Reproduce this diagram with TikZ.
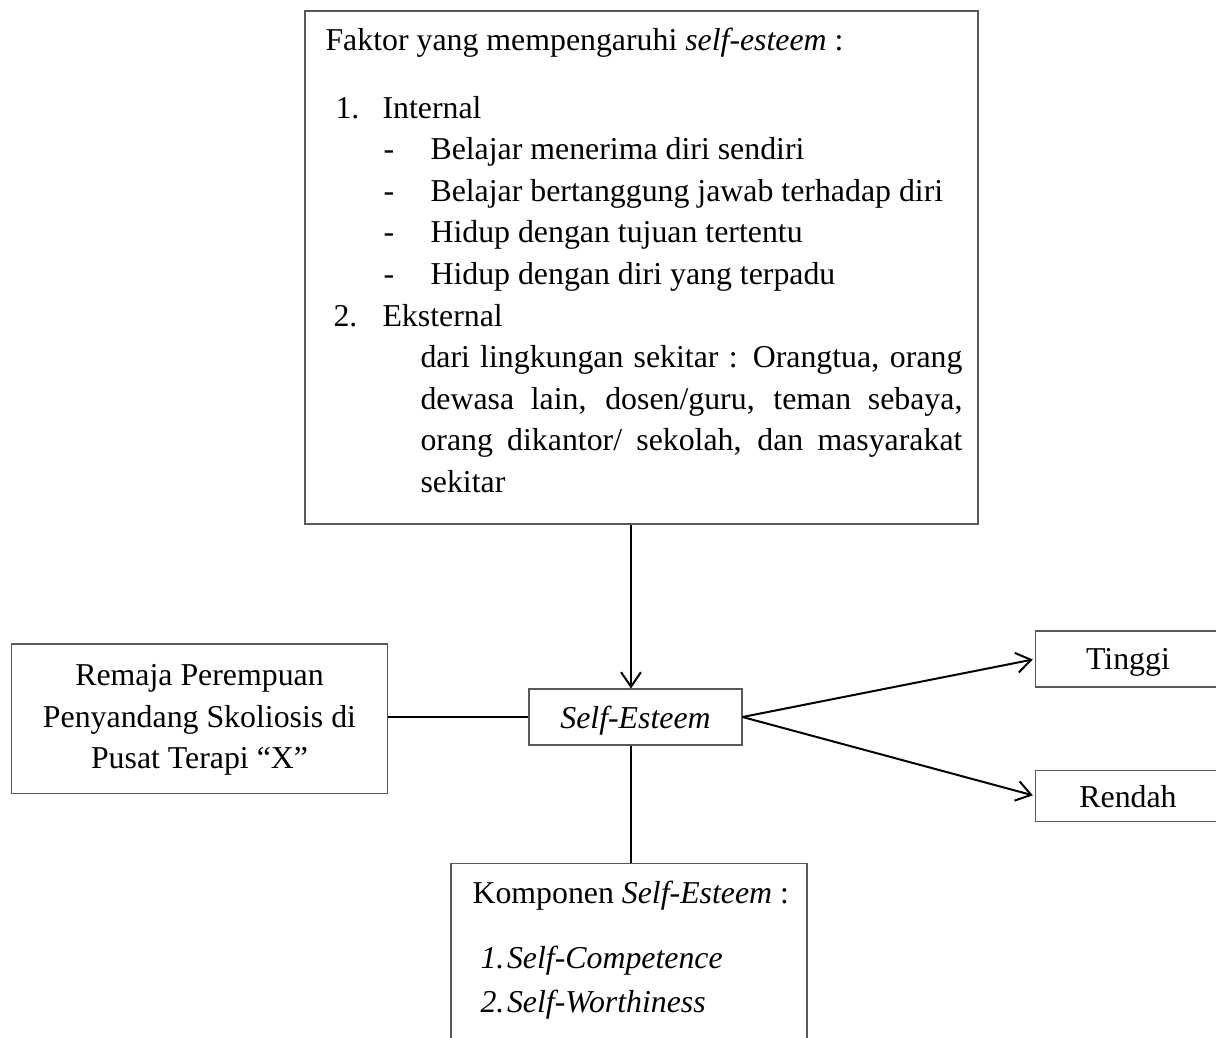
\documentclass[tikz,border=0pt]{standalone}
\usepackage{fontspec}
\setmainfont{Liberation Serif}
\usepackage{tikz}
\usetikzlibrary{arrows.meta,positioning}

\begin{document}
\begin{tikzpicture}[
    x=0.377pt, y=-0.377pt,
    every node/.style={font=\fontsize{12pt}{12.6pt}\selectfont},
    box/.style={rectangle, draw=black!65, line width=0.4pt, inner sep=0pt, text depth=0pt, align=center},
    txt/.style={anchor=base west, inner sep=0pt},
    link/.style={line width=0.75pt},
    arrow/.style={-{Straight Barb[length=5.5pt, width=7.5pt, line width=0.75pt]}, line width=0.75pt}
]
    \useasboundingbox (0,0) rectangle (1216,1037);
    \clip (0,0) rectangle (1216,1037);

    % boxes
    \node[box, minimum width=253.7pt, minimum height=193.4pt] (faktor) at (641.5,267.5) {};
    \node[box, minimum width=142.1pt, minimum height=56.2pt] (remaja) at (199.5,718.5) {};
    \node[align=center, inner sep=0pt, font=\fontsize{12pt}{15.6pt}\selectfont] (remajateks) at (199.5,720)
        {Remaja Perempuan\\Penyandang Skoliosis di\\Pusat Terapi ``X''};
    \node[box, minimum width=80.3pt, minimum height=21.1pt] (self) at (635.5,717) {\textit{Self-Esteem}};
    \node[box, minimum width=69.4pt, minimum height=21.1pt] (tinggi) at (1128,659) {Tinggi};
    \node[box, minimum width=69.4pt, minimum height=18.9pt] (rendah) at (1128,796) {Rendah};
    \node[box, minimum width=134.2pt, minimum height=68.6pt] (komponen) at (629,954) {};
    \coordinate (axis) at (631,717);

    % faktor text
    \node[txt] (judul) at (325,50) {Faktor yang mempengaruhi \textit{self-esteem} :};
    \node[txt] (no1) at (335,118) {1.};
    \node[txt] (internal) at (382,118) {Internal};
    \node[txt] (dash1) at (383,159.6) {-};
    \node[txt] (item1) at (430,159.6) {Belajar menerima diri sendiri};
    \node[txt] (dash2) at (383,201.2) {-};
    \node[txt] (item2) at (430,201.2) {Belajar bertanggung jawab terhadap diri};
    \node[txt] (dash3) at (383,242.8) {-};
    \node[txt] (item3) at (430,242.8) {Hidup dengan tujuan tertentu};
    \node[txt] (dash4) at (383,284.4) {-};
    \node[txt] (item4) at (430,284.4) {Hidup dengan diri yang terpadu};
    \node[txt] (no2) at (333,326) {2.};
    \node[txt] (eksternal) at (382,326) {Eksternal};
    \node[txt] (para1) at (420,367.6) {\makebox[204.3pt][s]{dari lingkungan sekitar : Orangtua, orang}};
    \node[txt] (para2) at (420,409.2) {\makebox[204.3pt][s]{dewasa lain, dosen/guru, teman sebaya,}};
    \node[txt] (para3) at (420,450.8) {\makebox[204.3pt][s]{orang dikantor/ sekolah, dan masyarakat}};
    \node[txt] (para4) at (420,492.4) {sekitar};

    % komponen text
    \node[txt] (kjudul) at (472,903) {Komponen \textit{Self-Esteem} :};
    \node[txt] (komp1) at (480,968) {\textit{1.\kern1pt Self-Competence}};
    \node[txt] (komp2) at (480,1012) {\textit{2.\kern1pt Self-Worthiness}};

    % connectors
    \draw[arrow] (faktor.south -| axis) -- (self.north -| axis);
    \draw[link] (remaja.east |- self.west) -- (self.west);
    \draw[link] (self.south -| axis) -- (komponen.north -| axis);
    \draw[arrow, shorten >=1pt] (self.east) -- (tinggi.west);
    \draw[arrow, shorten >=1pt] (self.east) -- (rendah.west);
\end{tikzpicture}
\end{document}
